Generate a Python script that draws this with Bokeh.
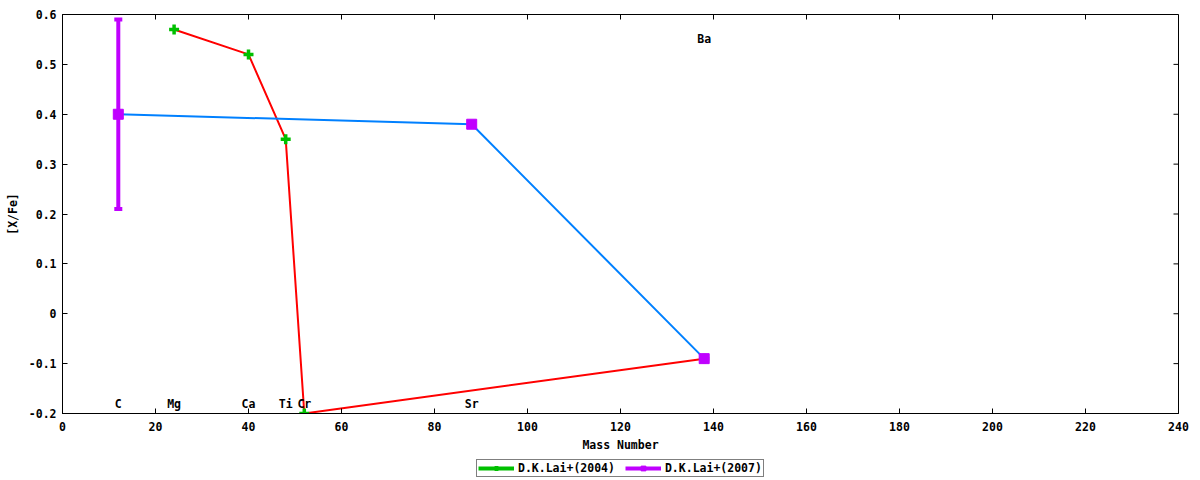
import math
from bokeh.plotting import figure
from bokeh.layouts import column
from bokeh.models import (FixedTicker, CustomJSTickFormatter, Legend,
                          LegendItem, Range1d)
from bokeh.core.properties import value
from bokeh.embed import file_html
from bokeh.resources import INLINE

# ---- data ----
lai2004_mass = [24, 40, 48, 52, 138]
lai2004_xfe = [0.57, 0.52, 0.35, -0.20, -0.09]
lai2004_err = [0.0, 0.0, 0.0, 0.0, 0.0]

lai2007_mass = [12, 88, 138]
lai2007_xfe = [0.40, 0.38, -0.09]
lai2007_err = [0.19, 0.0, 0.0]

label_names = ["C", "Mg", "Ca", "Ti", "Cr", "Sr", "Ba"]
label_mass = [12, 24, 40, 48, 52, 88, 138]
label_y = [-0.18, -0.18, -0.18, -0.18, -0.18, -0.18, 0.55]

series_names = ["D.K.Lai+(2004)", "D.K.Lai+(2007)"]

x_ticks = [0, 20, 40, 60, 80, 100, 120, 140, 160, 180, 200, 220, 240]
y_ticks = [-0.2, -0.1, 0.0, 0.1, 0.2, 0.3, 0.4, 0.5, 0.6]
x_min, x_max = 0, 240
y_min, y_max = -0.2, 0.6

FONT = "DejaVu Sans Mono"
FS = "11.5px"
RED = "#ff0000"
GREEN = "#00c000"
BLUE = "#0080ff"
PURPLE = "#c000ff"

p = figure(width=1200, height=454, output_backend="svg", toolbar_location=None,
           x_range=Range1d(x_min, x_max), y_range=Range1d(y_min, y_max),
           min_border_left=62, min_border_right=22, min_border_top=14,
           min_border_bottom=41,
           x_axis_label="Mass Number", y_axis_label="[X/Fe]")
p.grid.visible = False
p.outline_line_color = "black"
p.outline_line_width = 1
p.background_fill_color = "white"
p.border_fill_color = "white"

fmt = CustomJSTickFormatter(code="return Number(tick.toFixed(1)).toString();")
p.xaxis.ticker = FixedTicker(ticks=x_ticks)
p.yaxis.ticker = FixedTicker(ticks=y_ticks)
p.yaxis.formatter = fmt
p.xaxis.formatter = fmt

for ax in p.axis:
    ax.major_tick_in = 5
    ax.major_tick_out = 0
    ax.minor_tick_line_color = None
    ax.axis_line_color = "black"
    ax.major_tick_line_color = "black"
    ax.major_label_text_font = FONT
    ax.major_label_text_font_size = FS
    ax.major_label_text_font_style = "bold"
    ax.major_label_text_color = "black"
    ax.axis_label_text_font = FONT
    ax.axis_label_text_font_size = FS
    ax.axis_label_text_font_style = "bold"
    ax.axis_label_text_color = "black"
p.xaxis.major_label_standoff = 8
p.xaxis.axis_label_standoff = 4
p.yaxis.major_label_standoff = 6
p.yaxis.axis_label_standoff = 6

# mirrored ticks on top and right borders (gnuplot style)
p.ray(x=x_ticks, y=[y_max] * len(x_ticks), length=5, length_units="screen",
      angle=-math.pi / 2, line_color="black", line_width=1)
p.ray(x=[x_max] * len(y_ticks), y=y_ticks, length=5, length_units="screen",
      angle=math.pi, line_color="black", line_width=1)

# red connecting line through 2004 points
p.line(lai2004_mass, lai2004_xfe, line_color=RED, line_width=2)

# 2004 points with (zero) error bars
g_lo = [v - e for v, e in zip(lai2004_xfe, lai2004_err)]
g_hi = [v + e for v, e in zip(lai2004_xfe, lai2004_err)]
p.segment(x0=lai2004_mass, y0=g_lo, x1=lai2004_mass, y1=g_hi,
          line_color=GREEN, line_width=4)
p.scatter(lai2004_mass, lai2004_xfe, marker="cross", size=10,
          line_color=GREEN, line_width=3.5)

# blue connecting line through 2007 points
p.line(lai2007_mass, lai2007_xfe, line_color=BLUE, line_width=2)

# 2007 points with error bars
m_lo = [v - e for v, e in zip(lai2007_xfe, lai2007_err)]
m_hi = [v + e for v, e in zip(lai2007_xfe, lai2007_err)]
p.segment(x0=lai2007_mass, y0=m_lo, x1=lai2007_mass, y1=m_hi,
          line_color=PURPLE, line_width=4)
p.rect(x=lai2007_mass, y=m_lo, width=8, height=4, width_units="screen",
       height_units="screen", fill_color=PURPLE, line_color=None)
p.rect(x=lai2007_mass, y=m_hi, width=8, height=4, width_units="screen",
       height_units="screen", fill_color=PURPLE, line_color=None)
p.scatter(lai2007_mass, lai2007_xfe, marker="square", size=10,
          fill_color=PURPLE, line_color=PURPLE, line_width=1)

# element labels
p.text(x=label_mass, y=label_y, text=label_names, text_align="center",
       text_baseline="middle", text_font=value(FONT), text_font_size=value(FS),
       text_font_style="bold", text_color="black")

# ---- legend strip below the plot ----
lf = figure(width=1200, height=26, output_backend="svg", toolbar_location=None,
            x_range=Range1d(x_min, x_max), y_range=Range1d(y_min, y_max),
            x_axis_location=None, y_axis_location=None, min_border=0)
lf.grid.visible = False
lf.outline_line_color = None
lf.background_fill_color = "white"
lf.border_fill_color = "white"
# legend-only renderers (hidden in the strip; they only supply the legend samples)
lg_seg = lf.segment(x0=lai2004_mass, y0=g_lo, x1=lai2004_mass, y1=g_hi,
                    line_color=GREEN, line_width=4, visible=False)
lg_pts = lf.scatter(lai2004_mass, lai2004_xfe, marker="cross", size=10,
                    line_color=GREEN, line_width=3.5, visible=False)
lm_seg = lf.segment(x0=lai2007_mass, y0=m_lo, x1=lai2007_mass, y1=m_hi,
                    line_color=PURPLE, line_width=4, visible=False)
lm_pts = lf.scatter(lai2007_mass, lai2007_xfe, marker="square", size=10,
                    fill_color=PURPLE, line_color=PURPLE, visible=False)

legend = Legend(items=[LegendItem(label=series_names[0], renderers=[lg_seg, lg_pts]),
                       LegendItem(label=series_names[1], renderers=[lm_seg, lm_pts])],
                location=(414, 3), orientation="horizontal",
                border_line_color="black", border_line_width=1,
                background_fill_color="white", background_fill_alpha=1,
                padding=1, margin=0, spacing=10, glyph_width=36, glyph_height=12,
                label_standoff=4, label_height=12,
                label_text_font=FONT, label_text_font_size=FS,
                label_text_font_style="bold", label_text_color="black")
lf.add_layout(legend)

layout = column(p, lf, spacing=0)
open("out.html", "w").write(file_html(layout, INLINE))
